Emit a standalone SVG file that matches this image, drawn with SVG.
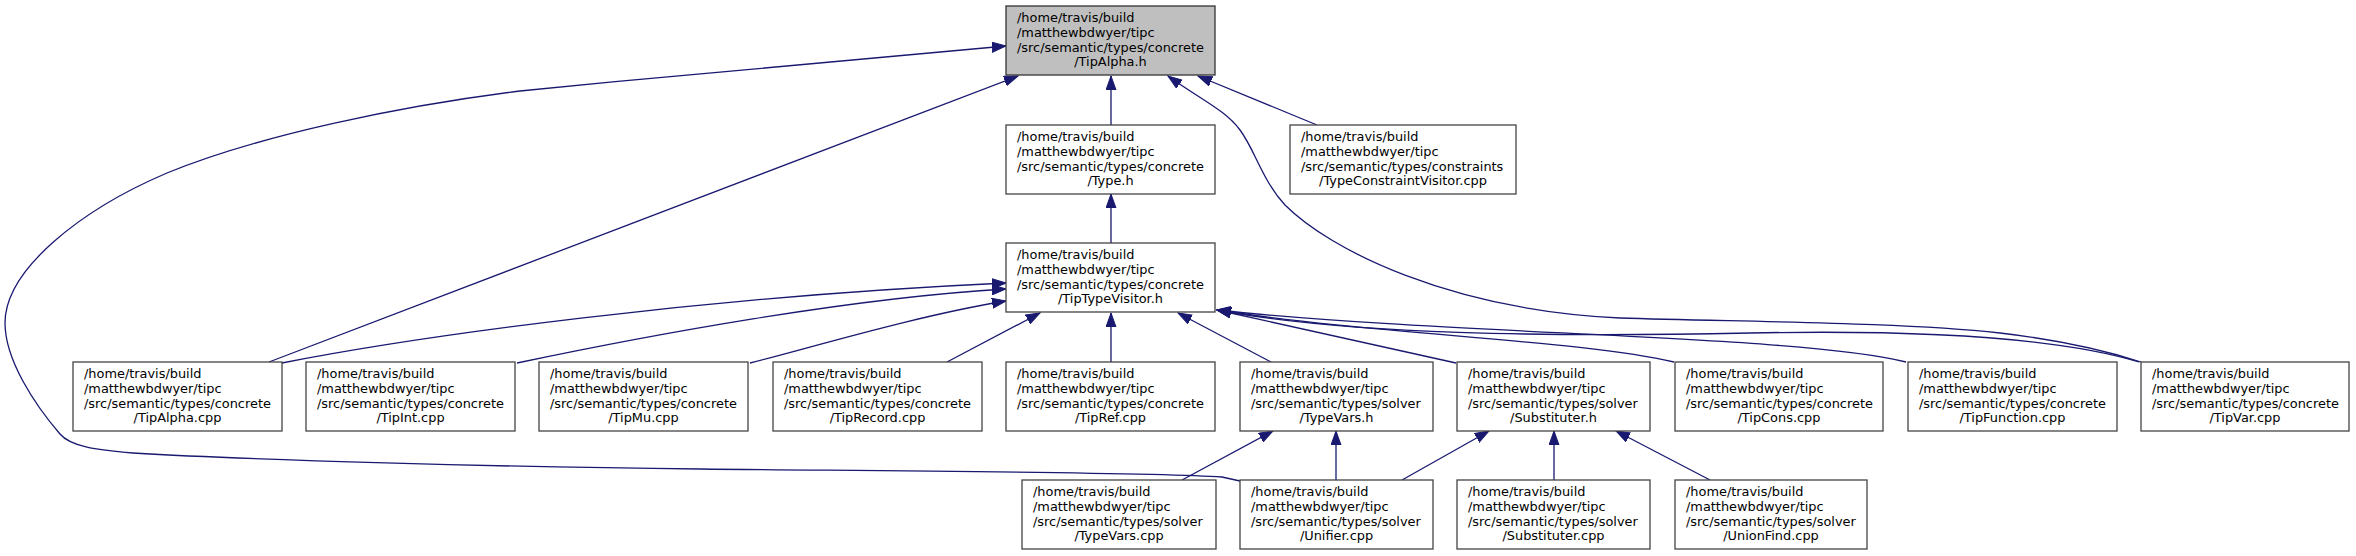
<svg xmlns="http://www.w3.org/2000/svg" width="2356" height="556" viewBox="0 0 2356 556">
<style>
.box{fill:#ffffff;stroke:#444444;stroke-width:1.3}
.root{fill:#bfbfbf;stroke:#333333;stroke-width:1.3}
text{font-family:"DejaVu Sans","Liberation Sans",sans-serif;font-size:12.9px;fill:#000000}
.c{text-anchor:middle}
.e{fill:none;stroke:#191970;stroke-width:1.3;marker-end:url(#ah)}
</style>
<defs>
<marker id="ah" markerUnits="userSpaceOnUse" markerWidth="15" markerHeight="11" viewBox="0 0 15 11" refX="14" refY="5.5" orient="auto">
<path d="M0,0.5 L14,5.5 L0,10.5 Z" fill="#191970" stroke="#191970" stroke-width="1"/>
</marker>
</defs>
<rect width="2356" height="556" fill="#ffffff"/>
<g id="edges">
<path class="e" d="M1111,125 L1111,76"/>
<path class="e" d="M1317,125 L1198,76"/>
<path class="e" d="M2141,362 C2110,352 2060,340 2000,333 C1900,322 1750,322 1620,318 C1450,310 1330,250 1285,205 C1262,180 1255,150 1240,130 C1225,110 1203,101 1168,76"/>
<path class="e" d="M269,362 L1018,76"/>
<path class="e" d="M1240,481 L1222,477 C1150,472 900,471 700,469 C500,467 250,460 133,453 C95,450 70,446 60,434 C35,405 5,360 5,323 C5,270 80,210 167,173 C260,135 400,106 520,91 C700,73 900,55 1006,46"/>
<path class="e" d="M1111,243 L1111,194"/>
<path class="e" d="M282,363 C420,336 700,297 1006,283"/>
<path class="e" d="M517,363 C650,335 850,298 1006,289"/>
<path class="e" d="M750,363 C820,345 920,315 1006,301"/>
<path class="e" d="M947,362 L1040,313"/>
<path class="e" d="M1111,362 L1111,313"/>
<path class="e" d="M1271,362 L1178,313"/>
<path class="e" d="M1456,363 L1217,310"/>
<path class="e" d="M1674,362 C1580,340 1380,335 1217,310"/>
<path class="e" d="M1906,362 C1800,335 1450,335 1217,310"/>
<path class="e" d="M2139,362 C2050,335 1900,330 1750,333 C1550,337 1350,335 1217,310"/>
<path class="e" d="M1182,480 L1273,431"/>
<path class="e" d="M1336,480 L1336,431"/>
<path class="e" d="M1402,480 L1489,431"/>
<path class="e" d="M1554,480 L1554,431"/>
<path class="e" d="M1710,480 L1616,431"/>
</g>
<g id="n0"><rect class="root" x="1006" y="6" width="209" height="69"/><text x="1017" y="22.3">/home/travis/build</text><text x="1017" y="36.9">/matthewbdwyer/tipc</text><text x="1017" y="51.5">/src/semantic/types/concrete</text><text class="c" x="1110.5" y="66">/TipAlpha.h</text></g>
<g id="n1"><rect class="box" x="1006" y="125" width="209" height="69"/><text x="1017" y="141.3">/home/travis/build</text><text x="1017" y="155.9">/matthewbdwyer/tipc</text><text x="1017" y="170.5">/src/semantic/types/concrete</text><text class="c" x="1110.5" y="185">/Type.h</text></g>
<g id="n2"><rect class="box" x="1290" y="125" width="226" height="69"/><text x="1301" y="141.3">/home/travis/build</text><text x="1301" y="155.9">/matthewbdwyer/tipc</text><text x="1301" y="170.5">/src/semantic/types/constraints</text><text class="c" x="1403" y="185">/TypeConstraintVisitor.cpp</text></g>
<g id="n3"><rect class="box" x="1006" y="243" width="209" height="69"/><text x="1017" y="259.3">/home/travis/build</text><text x="1017" y="273.9">/matthewbdwyer/tipc</text><text x="1017" y="288.5">/src/semantic/types/concrete</text><text class="c" x="1110.5" y="303">/TipTypeVisitor.h</text></g>
<g id="n4"><rect class="box" x="73" y="362" width="209" height="69"/><text x="84" y="378.3">/home/travis/build</text><text x="84" y="392.9">/matthewbdwyer/tipc</text><text x="84" y="407.5">/src/semantic/types/concrete</text><text class="c" x="177.5" y="422">/TipAlpha.cpp</text></g>
<g id="n5"><rect class="box" x="306" y="362" width="209" height="69"/><text x="317" y="378.3">/home/travis/build</text><text x="317" y="392.9">/matthewbdwyer/tipc</text><text x="317" y="407.5">/src/semantic/types/concrete</text><text class="c" x="410.5" y="422">/TipInt.cpp</text></g>
<g id="n6"><rect class="box" x="539" y="362" width="209" height="69"/><text x="550" y="378.3">/home/travis/build</text><text x="550" y="392.9">/matthewbdwyer/tipc</text><text x="550" y="407.5">/src/semantic/types/concrete</text><text class="c" x="643.5" y="422">/TipMu.cpp</text></g>
<g id="n7"><rect class="box" x="773" y="362" width="209" height="69"/><text x="784" y="378.3">/home/travis/build</text><text x="784" y="392.9">/matthewbdwyer/tipc</text><text x="784" y="407.5">/src/semantic/types/concrete</text><text class="c" x="877.5" y="422">/TipRecord.cpp</text></g>
<g id="n8"><rect class="box" x="1006" y="362" width="209" height="69"/><text x="1017" y="378.3">/home/travis/build</text><text x="1017" y="392.9">/matthewbdwyer/tipc</text><text x="1017" y="407.5">/src/semantic/types/concrete</text><text class="c" x="1110.5" y="422">/TipRef.cpp</text></g>
<g id="n9"><rect class="box" x="1240" y="362" width="193" height="69"/><text x="1251" y="378.3">/home/travis/build</text><text x="1251" y="392.9">/matthewbdwyer/tipc</text><text x="1251" y="407.5">/src/semantic/types/solver</text><text class="c" x="1336.5" y="422">/TypeVars.h</text></g>
<g id="n10"><rect class="box" x="1457" y="362" width="193" height="69"/><text x="1468" y="378.3">/home/travis/build</text><text x="1468" y="392.9">/matthewbdwyer/tipc</text><text x="1468" y="407.5">/src/semantic/types/solver</text><text class="c" x="1553.5" y="422">/Substituter.h</text></g>
<g id="n11"><rect class="box" x="1675" y="362" width="208" height="69"/><text x="1686" y="378.3">/home/travis/build</text><text x="1686" y="392.9">/matthewbdwyer/tipc</text><text x="1686" y="407.5">/src/semantic/types/concrete</text><text class="c" x="1779" y="422">/TipCons.cpp</text></g>
<g id="n12"><rect class="box" x="1908" y="362" width="209" height="69"/><text x="1919" y="378.3">/home/travis/build</text><text x="1919" y="392.9">/matthewbdwyer/tipc</text><text x="1919" y="407.5">/src/semantic/types/concrete</text><text class="c" x="2012.5" y="422">/TipFunction.cpp</text></g>
<g id="n13"><rect class="box" x="2141" y="362" width="208" height="69"/><text x="2152" y="378.3">/home/travis/build</text><text x="2152" y="392.9">/matthewbdwyer/tipc</text><text x="2152" y="407.5">/src/semantic/types/concrete</text><text class="c" x="2245" y="422">/TipVar.cpp</text></g>
<g id="n14"><rect class="box" x="1022" y="480" width="194" height="69"/><text x="1033" y="496.3">/home/travis/build</text><text x="1033" y="510.9">/matthewbdwyer/tipc</text><text x="1033" y="525.5">/src/semantic/types/solver</text><text class="c" x="1119" y="540">/TypeVars.cpp</text></g>
<g id="n15"><rect class="box" x="1240" y="480" width="193" height="69"/><text x="1251" y="496.3">/home/travis/build</text><text x="1251" y="510.9">/matthewbdwyer/tipc</text><text x="1251" y="525.5">/src/semantic/types/solver</text><text class="c" x="1336.5" y="540">/Unifier.cpp</text></g>
<g id="n16"><rect class="box" x="1457" y="480" width="193" height="69"/><text x="1468" y="496.3">/home/travis/build</text><text x="1468" y="510.9">/matthewbdwyer/tipc</text><text x="1468" y="525.5">/src/semantic/types/solver</text><text class="c" x="1553.5" y="540">/Substituter.cpp</text></g>
<g id="n17"><rect class="box" x="1675" y="480" width="192" height="69"/><text x="1686" y="496.3">/home/travis/build</text><text x="1686" y="510.9">/matthewbdwyer/tipc</text><text x="1686" y="525.5">/src/semantic/types/solver</text><text class="c" x="1771" y="540">/UnionFind.cpp</text></g>
</svg>
